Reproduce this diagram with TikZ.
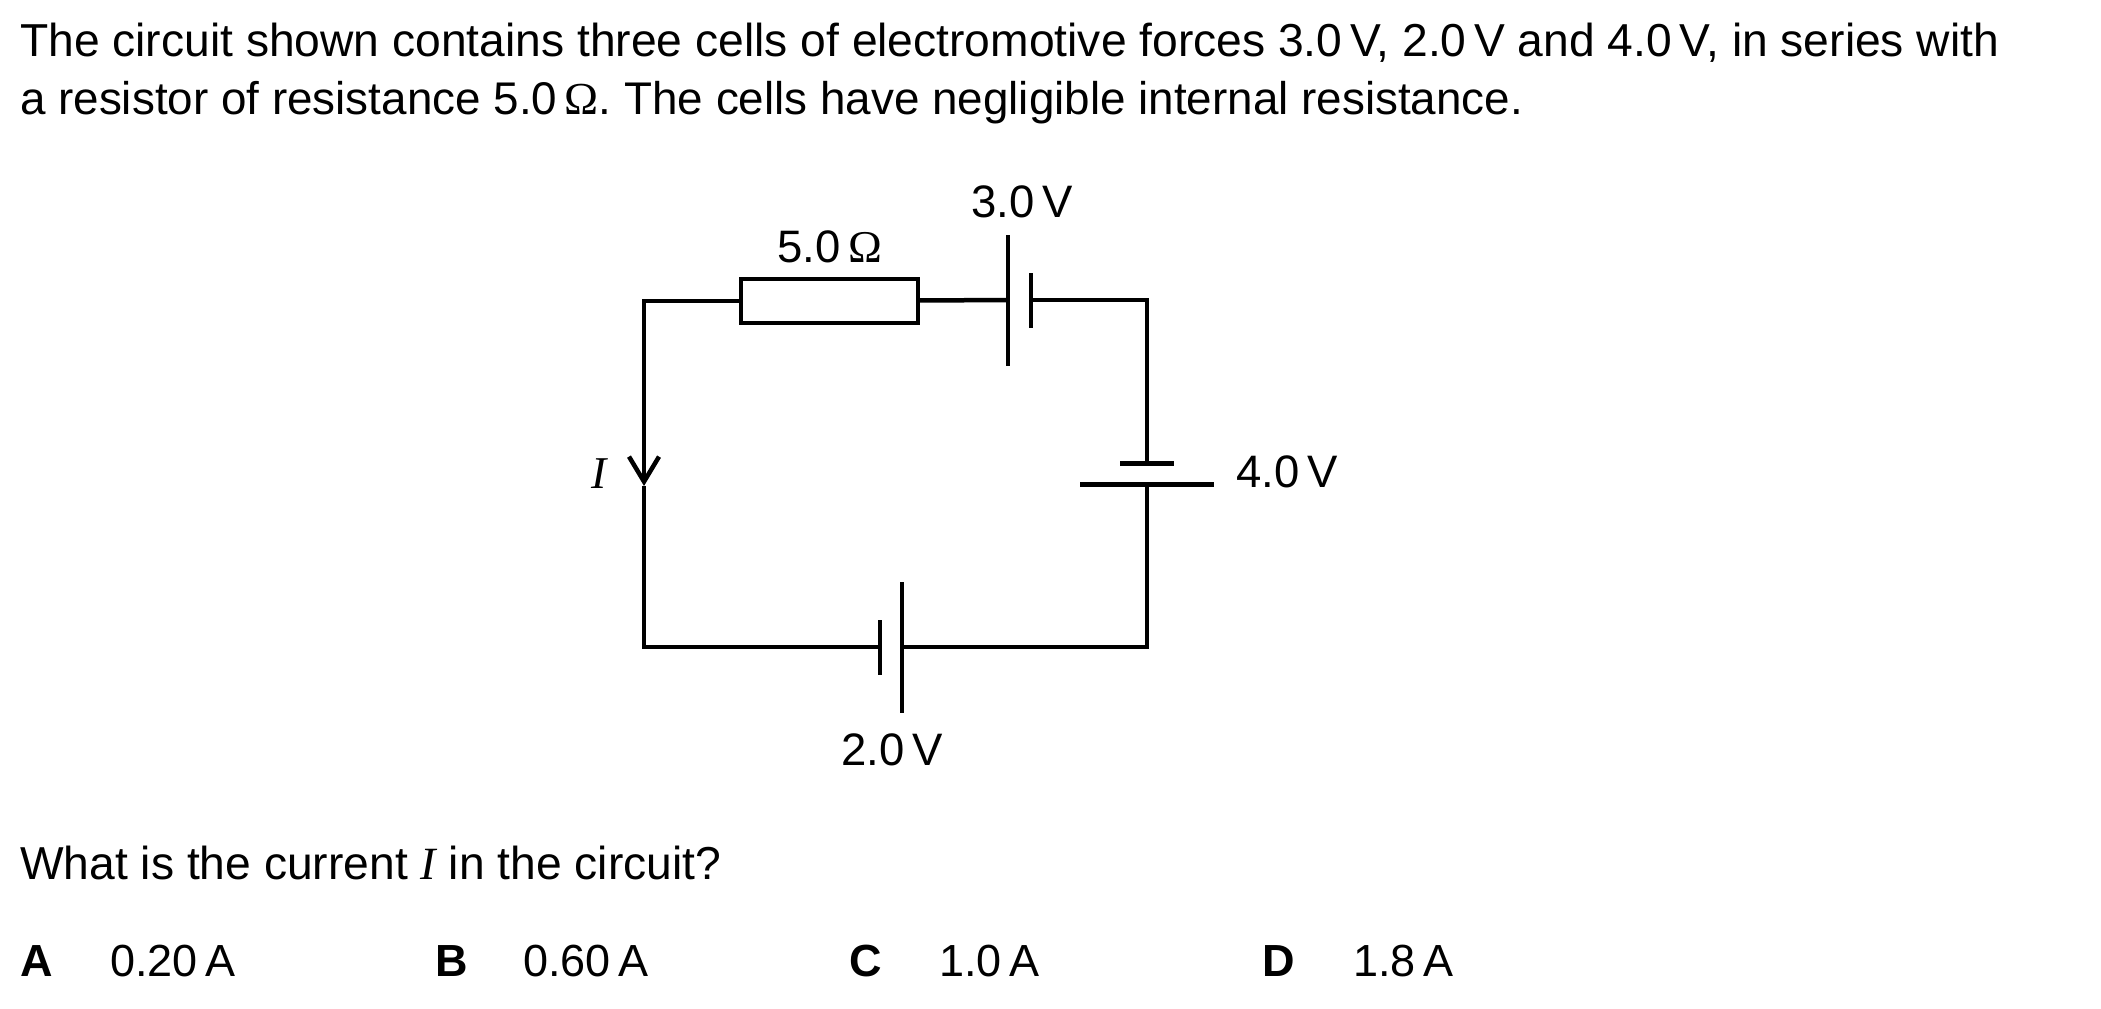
\documentclass[tikz,border=0pt]{standalone}
\usepackage{fontspec}
\usetikzlibrary{arrows.meta}
\setmainfont{Liberation Sans}
\newfontfamily\serifface{Liberation Serif}
\def\ohm{{\serifface Ω}}
\def\curr{{\serifface\itshape I}}
\tikzset{
	wire/.style={line width=4.5pt},
	plate/.style={fill=black,inner sep=0pt,outer sep=0pt},
	resbox/.style={draw,line width=4.5pt,fill=white,inner sep=0pt,outer sep=0pt,minimum width=177pt,minimum height=44pt},
	txt/.style={anchor=base west,inner sep=0pt,font=\fontsize{46.2}{55}\selectfont},
	lbl/.style={txt,font=\fontsize{45.5}{55}\selectfont},
	optn/.style={txt,font=\fontsize{45}{55}\selectfont},
}
\begin{document}
\begin{tikzpicture}[x=1pt,y=-1pt]
\useasboundingbox (0,0) rectangle (2101,1009);
% wording above and below the circuit
\node[txt] (line1) at (20,56) {The circuit shown contains three cells of electromotive forces 3.0\,V, 2.0\,V and 4.0\,V, in series with};
\node[txt,font=\fontsize{45.8}{55}\selectfont] (line2) at (20,114) {a resistor of resistance 5.0\,\ohm. The cells have negligible internal resistance.};
\node[txt] (ask) at (20,879) {What is the current \curr{} in the circuit?};
\node[optn] (optA) at (20,976) {\textbf{A}};
\node[optn] (valA) at (110,976) {0.20\,A};
\node[optn] (optB) at (435,976) {\textbf{B}};
\node[optn] (valB) at (523,976) {0.60\,A};
\node[optn] (optC) at (849,976) {\textbf{C}};
\node[optn] (valC) at (939,976) {1.0\,A};
\node[optn] (optD) at (1262,976) {\textbf{D}};
\node[optn] (valD) at (1353,976) {1.8\,A};
% resistor and cells
\node[resbox] (res) at (829.5,301) {};
\node[plate,minimum width=4.5pt,minimum height=131pt] (cellAlong) at (1008,300) {};
\node[plate,minimum width=4.5pt,minimum height=55pt] (cellAshort) at (1031,300) {};
\node[plate,minimum width=134pt,minimum height=4.5pt] (cellBlong) at (1147,484.5) {};
\node[plate,minimum width=54pt,minimum height=5pt] (cellBshort) at (1147,463) {};
\node[plate,minimum width=4.5pt,minimum height=131pt] (cellClong) at (902,647) {};
\node[plate,minimum width=4.5pt,minimum height=55pt] (cellCshort) at (880,647) {};
\coordinate (tip) at (644,486);
% wires
\draw[wire] (res) -- (cellAlong);
\draw[wire] (cellAshort) -| (cellBshort);
\draw[wire] (cellBlong) |- (cellClong);
\draw[wire,-{Straight Barb[length=25pt,width=30pt]}] (res) -| (tip);
\draw[wire] (cellCshort) -| (tip);
% labels
\node[lbl] (resval) at (777,262) {5.0\,\ohm};
\node[lbl] (cellAval) at (971,217) {3.0\,V};
\node[lbl] (cellBval) at (1236,487) {4.0\,V};
\node[lbl] (cellCval) at (841,765) {2.0\,V};
\node[lbl] (currlabel) at (591,488) {\curr};
\end{tikzpicture}
\end{document}
